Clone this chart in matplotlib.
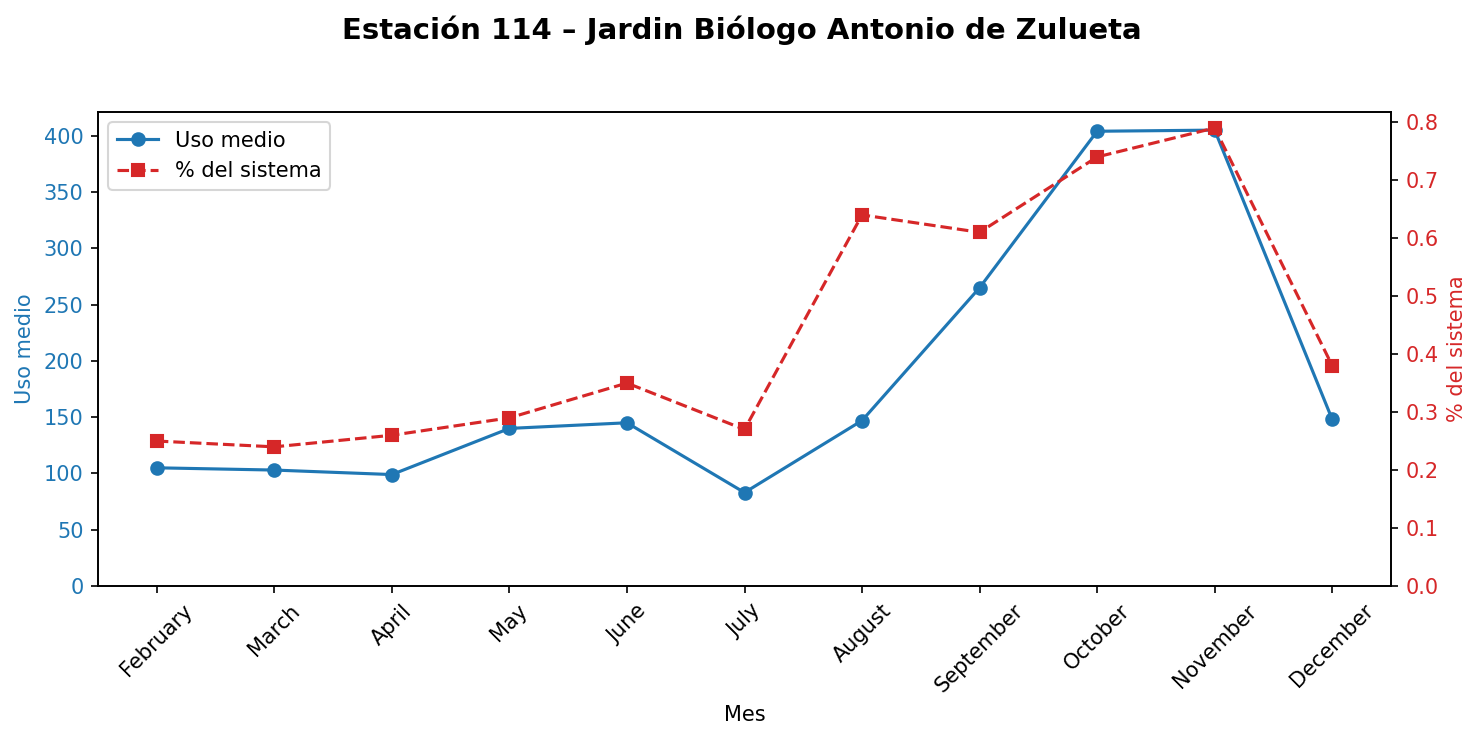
import matplotlib
matplotlib.use("Agg")
import matplotlib.pyplot as plt

months = ["February", "March", "April", "May", "June", "July", "August",
          "September", "October", "November", "December"]
uso_medio = [105, 103, 99, 140, 145, 83, 147, 265, 404, 405, 148]
pct_sistema = [0.25, 0.24, 0.26, 0.29, 0.35, 0.27, 0.64, 0.61, 0.74, 0.79, 0.38]

blue = "#1f77b4"
red = "#d62728"

fig, ax1 = plt.subplots(figsize=(1483/150, 740/150), dpi=150)
fig.subplots_adjust(left=98/1483, right=1391/1483, top=1-112/740, bottom=1-586/740)

x = list(range(len(months)))
l1, = ax1.plot(x, uso_medio, color=blue, marker="o", linestyle="-", label="Uso medio")
ax1.set_ylim(bottom=0)
ax1.set_ylabel("Uso medio", color=blue)
ax1.tick_params(axis="y", labelcolor=blue)
ax1.set_xlabel("Mes")
ax1.set_xticks(x)
ax1.set_xticklabels(months, rotation=45)

ax2 = ax1.twinx()
l2, = ax2.plot(x, pct_sistema, color=red, marker="s", linestyle="--", label="% del sistema")
ax2.set_ylim(bottom=0)
ax2.set_ylabel("% del sistema", color=red)
ax2.tick_params(axis="y", labelcolor=red)

ax1.legend([l1, l2], [l1.get_label(), l2.get_label()], loc="upper left")

fig.suptitle("Estación 114 – Jardin Biólogo Antonio de Zulueta", fontsize=14,
             fontweight="bold", y=1-30/740, va="center")

fig.savefig("out.png", dpi=150)
